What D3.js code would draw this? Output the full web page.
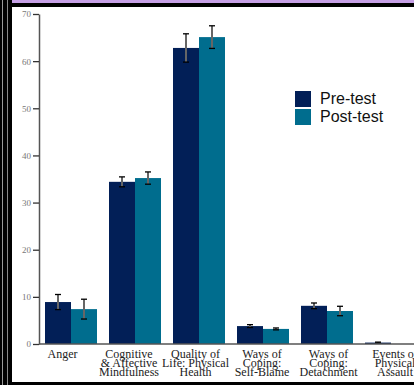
<!DOCTYPE html>
<html><head><meta charset="utf-8">
<script src="https://cdn.jsdelivr.net/npm/d3@7"></script>
<style>html,body{margin:0;padding:0;background:#fff;overflow:hidden}</style>
</head><body>
<svg id="c" width="414" height="385"></svg>
<script>
const categories = ["Anger", "Cognitive\n& Affective\nMindfulness", "Quality of\nLife: Physical\nHealth", "Ways of\nCoping:\nSelf-Blame", "Ways of\nCoping:\nDetachment", "Events of\nPhysical\nAssault"];
const series = ["Pre-test", "Post-test"];
const preValues = [8.9, 34.4, 62.8, 3.8, 8.1, 0.3];
const preErrors = [1.6, 1.05, 3.0, 0.3, 0.6, 0.1];
const postValues = [7.4, 35.2, 65.1, 3.2, 7.0, 0.0];
const postErrors = [2.1, 1.3, 2.4, 0.2, 1.0, 0.0];
const yTicks = [0, 10, 20, 30, 40, 50, 60, 70];
const colors = ["#021f57", "#006d8e"];

const svg = d3.select("#c");
// frame
svg.append("rect").attr("x",0).attr("y",0).attr("width",414).attr("height",385).attr("fill","#000");
svg.append("rect").attr("x",2).attr("y",0).attr("width",1).attr("height",385).attr("fill","#999");
svg.append("rect").attr("x",7).attr("y",0).attr("width",1).attr("height",385).attr("fill","#888");
svg.append("rect").attr("x",12).attr("y",0).attr("width",402).attr("height",3).attr("fill","#c6a0e6");
svg.append("rect").attr("x",12).attr("y",7).attr("width",402).attr("height",375).attr("fill","#fff");

const y = d3.scaleLinear().domain([0, 70]).range([344, 14]);
const x = d3.scaleBand().domain(categories).range([39, 39 + 64 * categories.length])
  .paddingInner(0.1875).paddingOuter(0.09375);
const xs = d3.scaleBand().domain(series).range([0, x.bandwidth()]);
// category labels sit on a slightly wider spacing than the bars in the reference
const xl = d3.scalePoint().domain(categories).range([62, 62 + 66.5 * (categories.length - 1)]);

const data = categories.map((c, i) => ({c, vals: [
  {s: series[0], v: preValues[i], e: preErrors[i]},
  {s: series[1], v: postValues[i], e: postErrors[i]}
]}));

const g = svg.append("g");
const grp = g.selectAll("g.grp").data(data).join("g").attr("transform", d => `translate(${x(d.c)},0)`);
grp.selectAll("rect").data(d => d.vals).join("rect")
  .attr("x", d => xs(d.s)).attr("width", xs.bandwidth())
  .attr("y", d => y(d.v)).attr("height", d => y(0) - y(d.v))
  .attr("fill", (d, i) => colors[i]);
// error bars
const eb = grp.selectAll("g.eb").data(d => d.vals.filter(v => v.e > 0)).join("g");
eb.append("line")
  .attr("x1", d => xs(d.s) + xs.bandwidth()/2).attr("x2", d => xs(d.s) + xs.bandwidth()/2)
  .attr("y1", d => y(d.v + d.e)).attr("y2", d => y(d.v - d.e))
  .attr("stroke", "#666").attr("stroke-width", 2);
["+", "-"].forEach(sign => {
  eb.append("line")
    .attr("x1", d => xs(d.s) + xs.bandwidth()/2 - 3).attr("x2", d => xs(d.s) + xs.bandwidth()/2 + 3)
    .attr("y1", d => y(sign === "+" ? d.v + d.e : d.v - d.e)).attr("y2", d => y(sign === "+" ? d.v + d.e : d.v - d.e))
    .attr("stroke", "#000").attr("stroke-width", 1.3);
});

// y axis
const ya = svg.append("g").attr("transform", "translate(39,0)")
  .call(d3.axisLeft(y).tickValues(yTicks).tickSize(6).tickSizeOuter(0).tickPadding(2));
ya.select(".domain").attr("stroke", "#555").attr("stroke-width", 1.5);
ya.selectAll(".tick line").attr("stroke", "#333").attr("stroke-width", 1.3);
ya.selectAll(".tick text").attr("font-family", "'Liberation Serif', serif").attr("font-size", 9).attr("fill", "#777");

// x axis
const xa = svg.append("g").attr("transform", "translate(0,344)")
  .call(d3.axisBottom(xl).tickSize(0).tickSizeOuter(0).tickFormat(""));
xa.select(".domain").attr("d", "M39,0H414").attr("stroke", "#555").attr("stroke-width", 1.5);
xa.selectAll(".tick").each(function(d) {
  const t = d3.select(this).append("text").attr("text-anchor", "middle")
    .attr("font-family", "'Liberation Serif', serif").attr("font-size", 12).attr("fill", "#222");
  d.split("\n").forEach((line, i) => {
    t.append("tspan").attr("x", 0).attr("y", 14 + i * 9).text(line);
  });
});

// legend
const lg = svg.append("g").attr("transform", "translate(295,91)");
series.forEach((s, i) => {
  lg.append("rect").attr("x", 0).attr("y", i * 18).attr("width", 16).attr("height", 16).attr("fill", colors[i]);
  lg.append("text").attr("x", 25).attr("y", i * 18 + 13).attr("font-family", "'Liberation Sans', Arial, sans-serif")
    .attr("font-size", 16).attr("fill", "#111").text(s);
});
</script>
</body></html>
